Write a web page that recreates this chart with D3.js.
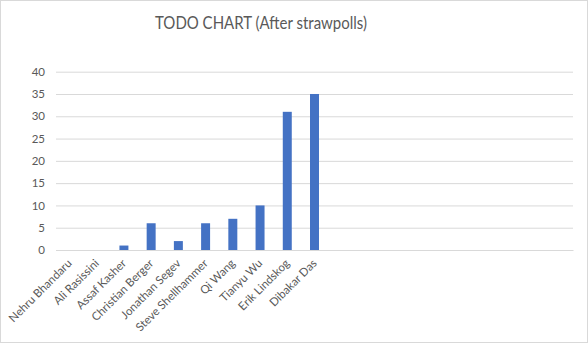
<!DOCTYPE html>
<html>
<head>
<meta charset="utf-8">
<script src="https://cdn.jsdelivr.net/npm/d3@7"></script>
<style>
  html, body { margin: 0; padding: 0; background: #fff; }
  svg { display: block; }
</style>
</head>
<body>
<svg id="chart" width="588" height="344"></svg>
<script>
// Category axis: named people, followed by unused empty slots
const names = ["Nehru Bhandaru", "Ali Rasissini", "Assaf Kasher", "Christian Berger",
  "Jonathan Segev", "Steve Shellhammer", "Qi Wang", "Tianyu Wu", "Erik Lindskog", "Dibakar Das",
  "", "", "", "", "", "", "", "", ""];
const votes = [0, 0, 1, 6, 2, 6, 7, 10, 31, 35, null, null, null, null, null, null, null, null, null];
const yTicks = [0, 5, 10, 15, 20, 25, 30, 35, 40];
const title = "TODO CHART (After strawpolls)";

const W = 588, H = 344;
const plot = { left: 56, right: 573, top: 71.7, bottom: 250 };
const font = "Lato, 'Open Sans', sans-serif";
const textColor = "#595959";

const svg = d3.select("#chart");

// chart area border
svg.append("rect")
  .attr("x", 0.5).attr("y", 0.5)
  .attr("width", W - 1).attr("height", H - 2)
  .attr("fill", "#fff").attr("stroke", "#d9d9d9");

svg.append("text")
  .attr("x", 261).attr("y", 28.5)
  .attr("text-anchor", "middle")
  .attr("font-family", font).attr("font-size", 17)
  .attr("textLength", 212).attr("lengthAdjust", "spacingAndGlyphs")
  .attr("fill", textColor)
  .text(title);

const keys = names.map((n, i) => "c" + i);
const x = d3.scaleBand().domain(keys).range([plot.left, plot.right]).paddingInner(0.67).paddingOuter(0.33);
const y = d3.scaleLinear().domain([0, 40]).range([plot.bottom, plot.top]);

// horizontal gridlines
const yAxis = d3.axisLeft(y).tickValues(yTicks).tickSize(-(plot.right - plot.left)).tickPadding(8);
const gy = svg.append("g").attr("transform", `translate(${plot.left},0)`).call(yAxis);
gy.select(".domain").remove();
gy.selectAll(".tick line").attr("stroke", "#d9d9d9").attr("stroke-width", 1);
gy.selectAll(".tick text")
  .attr("font-family", font).attr("font-size", 11.5).attr("fill", textColor)
  .attr("x", -11);

// bars
svg.append("g").selectAll("rect")
  .data(votes.map((v, i) => ({ k: keys[i], v })).filter(d => d.v))
  .join("rect")
  .attr("x", d => x(d.k))
  .attr("width", x.bandwidth())
  .attr("y", d => y(d.v))
  .attr("height", d => y(0) - y(d.v))
  .attr("fill", "#4472c4");

// category axis line and rotated labels
const xAxis = d3.axisBottom(x).tickSize(0).tickFormat((k, i) => names[i]);
const gx = svg.append("g").attr("transform", `translate(0,${plot.bottom})`).call(xAxis);
gx.select(".domain").attr("stroke", "#d9d9d9");
gx.selectAll(".tick text")
  .attr("font-family", font).attr("font-size", 11.5).attr("fill", textColor)
  .attr("text-anchor", "end")
  .attr("transform", "translate(3,14) rotate(-45)")
  .attr("y", 0).attr("dy", 0);
</script>
</body>
</html>
